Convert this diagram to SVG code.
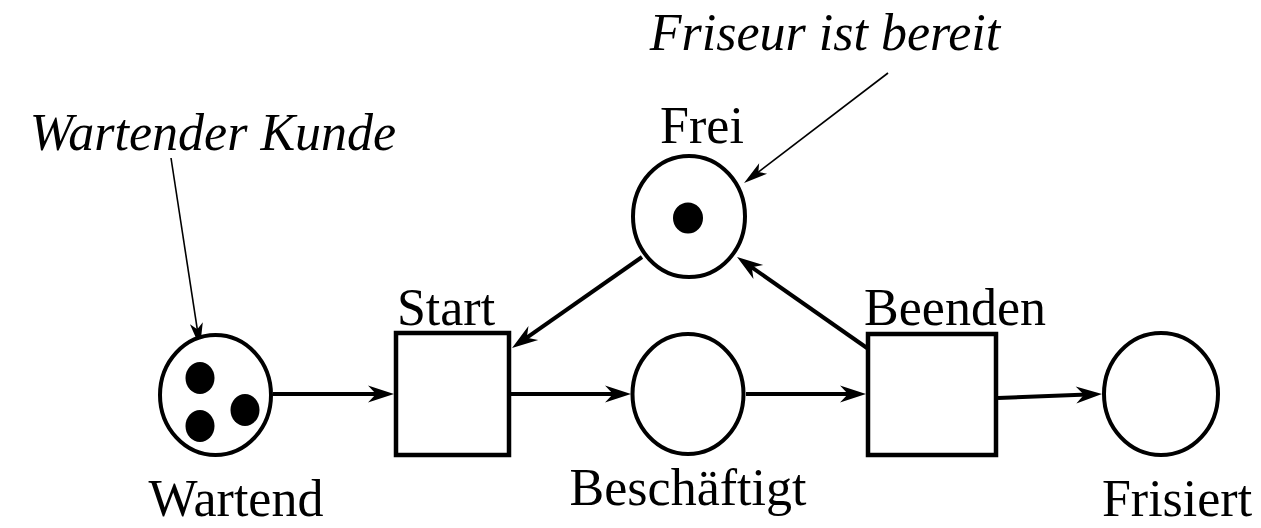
<svg xmlns="http://www.w3.org/2000/svg" width="1261" height="528" viewBox="0 0 1261 528">
<style>
.place{fill:#fff;stroke:#000;stroke-width:4}
.trans{fill:#fff;stroke:#000;stroke-width:4.5}
.token{fill:#000}
.arc{fill:none;stroke:#000;stroke-width:4}
.note{fill:none;stroke:#000;stroke-width:1.6}
.lbl{font-family:"Liberation Serif","Times New Roman",serif;font-size:52px;fill:#000;text-anchor:middle}
.it{font-style:italic}
</style>
<defs>
<marker id="ah" markerUnits="userSpaceOnUse" markerWidth="40" markerHeight="40" viewBox="-20 -20 40 40" refX="0" refY="0" orient="auto">
<path d="M8,0 L-18,-8.5 L-10,0 L-18,8.5 Z" fill="#000"/>
</marker>
<marker id="ahs" markerUnits="userSpaceOnUse" markerWidth="40" markerHeight="40" viewBox="-20 -20 40 40" refX="0" refY="0" orient="auto">
<path d="M6,0 L-18,-6.5 L-12,0 L-18,6.5 Z" fill="#000"/>
</marker>
</defs>
<rect width="1261" height="528" fill="#fff"/>
<g id="connectors">
<path class="arc" d="M273,394 L386,394" marker-end="url(#ah)"/>
<path class="arc" d="M511,394 L623,394" marker-end="url(#ah)"/>
<path class="arc" d="M746,394 L858,394" marker-end="url(#ah)"/>
<path class="arc" d="M998,398 L1094,394.3" marker-end="url(#ah)"/>
<path class="arc" d="M642,257 L518.6,343.4" marker-end="url(#ah)"/>
<path class="arc" d="M867,348 L743.6,261.6" marker-end="url(#ah)"/>
<path class="note" d="M171,158 L199.1,341.1" marker-end="url(#ahs)"/>
<path class="note" d="M888,73 L748.8,179.4" marker-end="url(#ahs)"/>
</g>
<g id="wartend">
<ellipse class="place" cx="215.5" cy="395" rx="55.5" ry="60"/>
<ellipse class="token" cx="200" cy="378" rx="14.5" ry="16"/>
<ellipse class="token" cx="200" cy="426" rx="14.5" ry="16"/>
<ellipse class="token" cx="245" cy="410" rx="14.5" ry="16"/>
<text class="lbl" x="236" y="516">Wartend</text>
</g>
<g id="start">
<rect class="trans" x="396" y="333" width="113" height="122"/>
<text class="lbl" x="446" y="325">Start</text>
</g>
<g id="beschaeftigt">
<ellipse class="place" cx="688" cy="394" rx="55.5" ry="60"/>
<text class="lbl" x="688" y="505">Beschäftigt</text>
</g>
<g id="frei">
<ellipse class="place" cx="689" cy="216.5" rx="56" ry="60.5"/>
<ellipse class="token" cx="688" cy="218" rx="15" ry="15.5"/>
<text class="lbl" x="702" y="143">Frei</text>
</g>
<g id="beenden">
<rect class="trans" x="868" y="334" width="128" height="121"/>
<text class="lbl" x="955" y="325">Beenden</text>
</g>
<g id="frisiert">
<ellipse class="place" cx="1161" cy="394" rx="57" ry="61"/>
<text class="lbl" x="1177" y="516">Frisiert</text>
</g>
<g id="note-kunde">
<text class="lbl it" x="213" y="150">Wartender Kunde</text>
</g>
<g id="note-friseur">
<text class="lbl it" x="825" y="50">Friseur ist bereit</text>
</g>
</svg>
